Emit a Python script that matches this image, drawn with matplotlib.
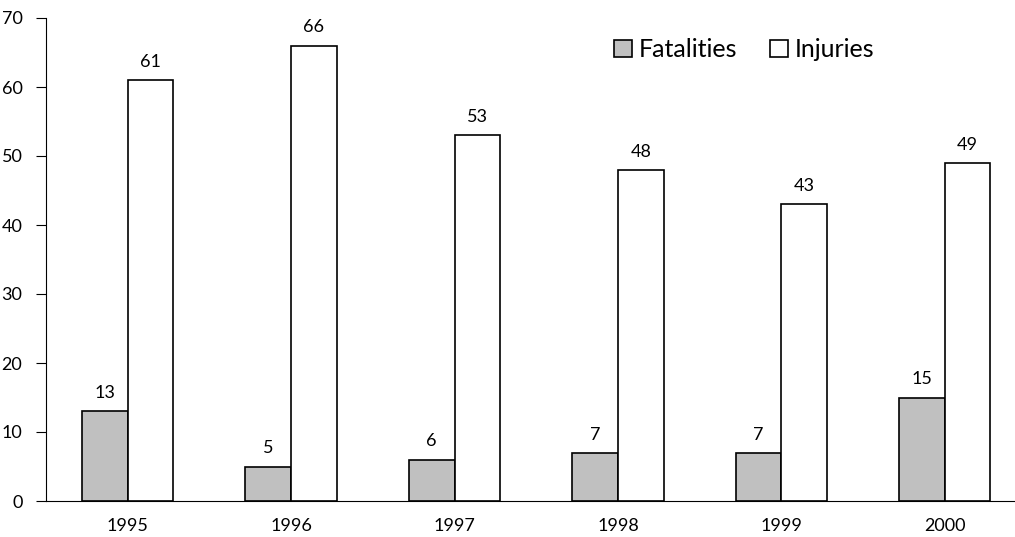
import matplotlib.pyplot as plt
import numpy as np

# Fatalities and injuries per year
years = ['1995', '1996', '1997', '1998', '1999', '2000']
fatalities = [13, 5, 6, 7, 7, 15]
injuries = [61, 66, 53, 48, 43, 49]

plt.rcParams['font.family'] = ['Lato', 'DejaVu Sans']

fig = plt.figure(figsize=(10.15, 5.37), dpi=100)
ax = fig.add_axes([46 / 1015, 1 - 501 / 537, 969 / 1015, 483 / 537])

x = np.arange(len(years))
w = 0.28
b1 = ax.bar(x - w / 2, fatalities, w, color='#c0c0c0', edgecolor='black', linewidth=1.2, label='Fatalities')
b2 = ax.bar(x + w / 2, injuries, w, color='white', edgecolor='black', linewidth=1.2, label='Injuries')

for bars, vals in ((b1, fatalities), (b2, injuries)):
    for r, v in zip(bars, vals):
        ax.text(r.get_x() + r.get_width() / 2, v + 1.9, str(v), ha='center', va='baseline', fontsize=13)

ax.set_xlim(-0.5, 5.43)
ax.set_ylim(0, 70)
ax.set_yticks(range(0, 71, 10))
ax.set_xticks(x)
ax.set_xticklabels(years)
ax.tick_params(axis='x', length=0, pad=12, labelsize=13)
ax.tick_params(axis='y', length=7, direction='out', labelsize=13, pad=10)
for s in ('top', 'right'):
    ax.spines[s].set_visible(False)

ax.legend(loc='upper left', bbox_to_anchor=(0.563, 1.005), ncol=2, frameon=False, fontsize=18,
          handlelength=0.7, handleheight=0.7, handletextpad=0.3, columnspacing=1.3)

fig.savefig('out.png', dpi=100)
